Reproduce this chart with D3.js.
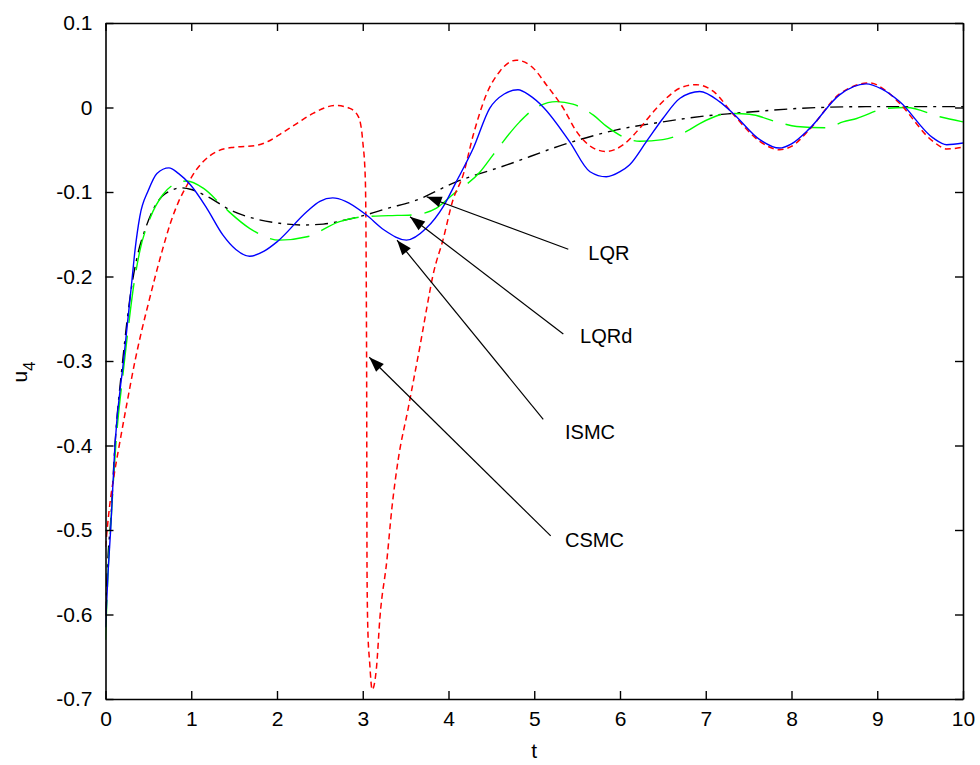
<!DOCTYPE html>
<html>
<head>
<meta charset="utf-8">
<script src="https://cdn.jsdelivr.net/npm/d3@7/dist/d3.min.js"></script>
<style>
  html, body { margin: 0; padding: 0; background: #fff; }
  svg text { font-family: "Liberation Sans", Arial, Helvetica, sans-serif; fill: #000; }
</style>
</head>
<body>
<svg id="chart" width="980" height="765"></svg>
<script>
// Control effort u4 over time for four controllers
const xTicks = [0, 1, 2, 3, 4, 5, 6, 7, 8, 9, 10];
const xTickLabels = ["0", "1", "2", "3", "4", "5", "6", "7", "8", "9", "10"];
const yTicks = [0.1, 0, -0.1, -0.2, -0.3, -0.4, -0.5, -0.6, -0.7];
const yTickLabels = ["0.1", "0", "-0.1", "-0.2", "-0.3", "-0.4", "-0.5", "-0.6", "-0.7"];

// ISMC (blue, solid)
const ismcT = [0, 0.03, 0.06, 0.11, 0.21, 0.305, 0.344, 0.40, 0.50, 0.60, 0.74, 0.85, 0.99, 1.18, 1.37, 1.52, 1.68, 1.85, 2.0, 2.35, 2.5, 2.65, 2.8, 3.04, 3.25, 3.51, 3.74, 3.94, 4.09, 4.29, 4.48, 4.65, 4.81, 4.95, 5.10, 5.41, 5.65, 5.84, 6.0, 6.11, 6.31, 6.50, 6.70, 6.93, 7.16, 7.32, 7.63, 7.86, 8.0, 8.21, 8.56, 8.87, 9.05, 9.26, 9.65, 9.81, 10];
const ismcU = [-0.615, -0.55, -0.50, -0.40, -0.30, -0.208, -0.169, -0.129, -0.098, -0.078, -0.0715, -0.078, -0.0915, -0.119, -0.151, -0.168, -0.176, -0.17, -0.159, -0.123, -0.111, -0.107, -0.111, -0.127, -0.145, -0.157, -0.143, -0.117, -0.088, -0.048, -0.001, 0.016, 0.021, 0.014, 0.001, -0.040, -0.076, -0.082, -0.076, -0.068, -0.040, -0.013, 0.011, 0.019, 0.007, -0.007, -0.038, -0.048, -0.043, -0.025, 0.015, 0.028, 0.022, 0.007, -0.036, -0.044, -0.042];

// CSMC (red, dotted)
const csmcT = [0, 0.05, 0.10, 0.16, 0.25, 0.344, 0.42, 0.50, 0.58, 0.66, 0.75, 0.85, 0.95, 1.05, 1.14, 1.30, 1.5, 1.75, 1.9, 2.03, 2.23, 2.42, 2.68, 2.85, 2.95, 3.0, 3.03, 3.045, 3.05, 3.06, 3.08, 3.11, 3.16, 3.20, 3.28, 3.34, 3.41, 3.53, 3.59, 3.67, 3.74, 3.82, 3.94, 4.05, 4.17, 4.29, 4.44, 4.60, 4.79, 4.99, 5.14, 5.34, 5.49, 5.69, 5.84, 6.04, 6.23, 6.39, 6.54, 6.70, 6.89, 7.09, 7.32, 7.63, 7.86, 8.0, 8.21, 8.56, 8.91, 9.1, 9.26, 9.65, 9.81, 10];
const csmcU = [-0.52, -0.47, -0.435, -0.40, -0.35, -0.30, -0.265, -0.232, -0.20, -0.17, -0.139, -0.112, -0.092, -0.075, -0.064, -0.052, -0.047, -0.045, -0.040, -0.032, -0.019, -0.007, 0.0024, -0.001, -0.011, -0.040, -0.085, -0.30, -0.55, -0.62, -0.656, -0.689, -0.663, -0.604, -0.537, -0.474, -0.419, -0.356, -0.324, -0.281, -0.241, -0.198, -0.155, -0.11, -0.080, -0.032, 0.015, 0.043, 0.056, 0.0465, 0.027, -0.001, -0.028, -0.048, -0.052, -0.044, -0.0245, -0.005, 0.011, 0.023, 0.027, 0.019, -0.008, -0.040, -0.050, -0.046, -0.026, 0.016, 0.029, 0.020, 0.005, -0.040, -0.049, -0.047];

// LQRd (green, dashed)
const lqrdT = [0, 0.03, 0.07, 0.12, 0.21, 0.27, 0.33, 0.40, 0.52, 0.67, 0.8, 0.95, 1.14, 1.37, 1.68, 2.03, 2.35, 2.73, 3.04, 3.3, 3.59, 3.86, 4.05, 4.37, 4.52, 4.83, 4.98, 5.26, 5.45, 5.69, 5.84, 6.23, 6.50, 6.78, 6.93, 7.28, 7.51, 7.86, 8.06, 8.41, 8.60, 8.76, 9.11, 9.34, 9.73, 10];
const lqrdU = [-0.63, -0.55, -0.48, -0.40, -0.31, -0.257, -0.21, -0.170, -0.131, -0.103, -0.091, -0.087, -0.0955, -0.117, -0.143, -0.157, -0.153, -0.135, -0.129, -0.128, -0.127, -0.119, -0.103, -0.076, -0.056, -0.017, -0.003, 0.007, 0.004, -0.009, -0.022, -0.040, -0.038, -0.028, -0.019, -0.007, -0.008, -0.018, -0.0225, -0.024, -0.017, -0.013, -0.001, 0.0, -0.011, -0.017];

// LQR (black, dash-dot)
const lqrT = [0, 0.03, 0.06, 0.11, 0.2, 0.3, 0.38, 0.46, 0.56, 0.66, 0.77, 0.87, 1.0, 1.18, 1.49, 1.72, 2.03, 2.3, 2.54, 2.8, 3.04, 3.3, 3.59, 4.09, 4.68, 5.34, 5.96, 6.50, 7.09, 7.32, 8.10, 8.87, 10];
const lqrU = [-0.60, -0.53, -0.49, -0.40, -0.30, -0.215, -0.172, -0.145, -0.12, -0.105, -0.098, -0.095, -0.097, -0.105, -0.123, -0.131, -0.137, -0.139, -0.138, -0.133, -0.127, -0.119, -0.111, -0.088, -0.068, -0.044, -0.0265, -0.017, -0.009, -0.007, -0.001, 0.001, 0.001];

// Annotation labels with arrows (tail -> tip in data units)
const annNames = ["LQR", "LQRd", "ISMC", "CSMC"];
const annTipT = [3.745, 3.551, 3.40, 3.076];
const annTipU = [-0.1056, -0.1292, -0.157, -0.2956];
const annTailT = [5.397, 5.339, 5.105, 5.192];
const annTailU = [-0.1678, -0.268, -0.369, -0.507];
const annLabelT = [5.63, 5.534, 5.359, 5.359];
const annLabelU = [-0.1805, -0.279, -0.3927, -0.5198];

const svg = d3.select("#chart");
const plotLeft = 105.5, plotRight = 963, plotTop = 23, plotBottom = 699;
const x = d3.scaleLinear().domain([0, 10]).range([plotLeft, plotRight]);
const y = d3.scaleLinear().domain([-0.7, 0.1]).range([plotBottom, plotTop]);

svg.append("defs").append("clipPath").attr("id", "plotClip")
  .append("rect").attr("x", plotLeft).attr("y", plotTop)
  .attr("width", plotRight - plotLeft).attr("height", plotBottom - plotTop);

const series = [
  { t: lqrT, u: lqrU, color: "#000000", dash: "13,6,3,6", width: 1.4 },
  { t: lqrdT, u: lqrdU, color: "#00ff00", dash: "40,13", width: 1.4 },
  { t: csmcT, u: csmcU, color: "#ff0000", dash: "6,4", width: 1.5 },
  { t: ismcT, u: ismcU, color: "#0000ff", dash: null, width: 1.4 }
];

const line = d3.line()
  .x(d => x(d[0]))
  .y(d => y(d[1]))
  .curve(d3.curveMonotoneX);

const plot = svg.append("g").attr("clip-path", "url(#plotClip)");
series.forEach(s => {
  plot.append("path")
    .datum(s.t.map((t, i) => [t, s.u[i]]))
    .attr("fill", "none")
    .attr("stroke", s.color)
    .attr("stroke-width", s.width)
    .attr("stroke-dasharray", s.dash)
    .attr("d", line);
});

// Axes: labelled bottom/left, mirrored ticks top/right, ticks pointing inward
const fontSize = 21;
const gx = svg.append("g").attr("transform", `translate(0,${plotBottom})`)
  .call(d3.axisBottom(x).tickValues(xTicks).tickFormat((d, i) => xTickLabels[i])
    .tickSizeInner(-8).tickSizeOuter(0).tickPadding(12));
const gy = svg.append("g").attr("transform", `translate(${plotLeft},0)`)
  .call(d3.axisLeft(y).tickValues(yTicks).tickFormat((d, i) => yTickLabels[i])
    .tickSizeInner(-8).tickSizeOuter(0).tickPadding(13));
const gt = svg.append("g").attr("transform", `translate(0,${plotTop})`)
  .call(d3.axisTop(x).tickValues(xTicks).tickFormat("").tickSizeInner(-8).tickSizeOuter(0));
const gr = svg.append("g").attr("transform", `translate(${plotRight},0)`)
  .call(d3.axisRight(y).tickValues(yTicks).tickFormat("").tickSizeInner(-8).tickSizeOuter(0));

[gx, gy, gt, gr].forEach(g => {
  g.selectAll("path.domain").attr("stroke", "#000").attr("stroke-width", 1.6);
  g.selectAll(".tick line").attr("stroke", "#000").attr("stroke-width", 1.4);
  g.selectAll(".tick text").attr("font-size", fontSize)
    .style("font-family", '"Liberation Sans", Arial, sans-serif').attr("fill", "#000");
});

// Axis titles
svg.append("text")
  .attr("x", (plotLeft + plotRight) / 2).attr("y", 758)
  .attr("text-anchor", "middle").attr("font-size", fontSize)
  .text("t");

const yl = svg.append("text")
  .attr("transform", "translate(27,372) rotate(-90)")
  .attr("text-anchor", "middle").attr("font-size", fontSize);
yl.append("tspan").text("u");
yl.append("tspan").attr("font-size", 17).attr("dy", 8).text("4");

// Arrow annotations
const ann = svg.append("g");
annNames.forEach((name, i) => {
  const x0 = x(annTailT[i]), y0 = y(annTailU[i]);
  const x1 = x(annTipT[i]), y1 = y(annTipU[i]);
  ann.append("line")
    .attr("x1", x0).attr("y1", y0).attr("x2", x1).attr("y2", y1)
    .attr("stroke", "#000").attr("stroke-width", 1.2);
  const ang = Math.atan2(y1 - y0, x1 - x0);
  const len = 15, half = 5.5;
  const bx = x1 - len * Math.cos(ang), by = y1 - len * Math.sin(ang);
  const px = -Math.sin(ang) * half, py = Math.cos(ang) * half;
  ann.append("path")
    .attr("d", `M${x1},${y1}L${bx + px},${by + py}L${bx - px},${by - py}Z`)
    .attr("fill", "#000");
  ann.append("text")
    .attr("x", x(annLabelT[i])).attr("y", y(annLabelU[i]))
    .attr("font-size", 20)
    .text(name);
});
</script>
</body>
</html>
